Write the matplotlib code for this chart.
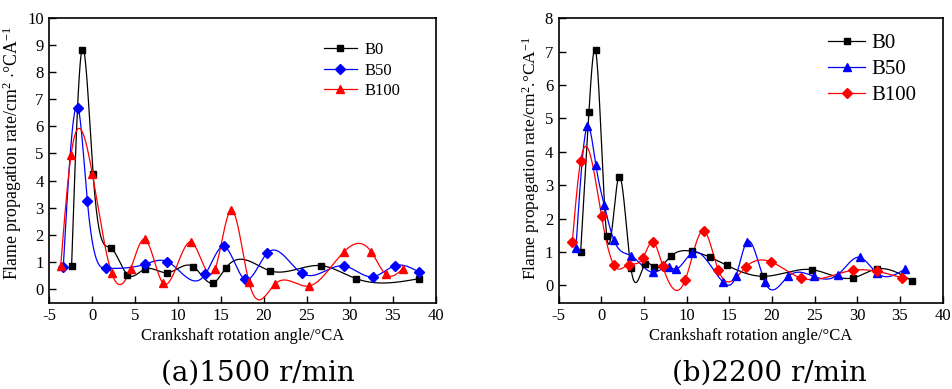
import numpy as np
import matplotlib
matplotlib.use("Agg")
import matplotlib.pyplot as plt

# ---------------- data: (a) 1500 r/min ----------------
a_b0_x = [-2.4, -1.2, 0.1, 2.2, 4.1, 6.1, 8.75, 11.8, 14.1, 15.6, 20.7, 26.7, 30.75, 38.1]
a_b0_y = [0.85, 8.84, 4.25, 1.5, 0.52, 0.72, 0.59, 0.81, 0.21, 0.78, 0.66, 0.85, 0.37, 0.37]
a_b50_x = [-3.37, -1.65, -0.57, 1.6, 6.12, 8.75, 13.17, 15.35, 17.75, 20.4, 24.4, 29.35, 32.7, 35.3, 38.1]
a_b50_y = [0.81, 6.70, 3.25, 0.75, 0.90, 1.00, 0.53, 1.56, 0.35, 1.32, 0.57, 0.84, 0.44, 0.85, 0.61]
a_b100_x = [-3.67, -2.47, 0.01, 2.27, 4.49, 6.12, 8.2, 11.55, 14.33, 16.2, 18.25, 21.3, 25.3, 29.35, 32.5, 34.2, 36.2]
a_b100_y = [0.85, 4.94, 4.25, 0.57, 0.74, 1.83, 0.22, 1.72, 0.74, 2.91, 0.26, 0.17, 0.10, 1.37, 1.37, 0.53, 0.74]

# ---------------- data: (b) 2200 r/min ----------------
b_b0_x = [-2.43, -1.46, -0.68, 0.64, 2.04, 3.47, 5.15, 6.12, 8.14, 10.59, 12.77, 14.7, 19.0, 24.7, 29.46, 32.3, 36.4]
b_b0_y = [0.99, 5.18, 7.04, 1.47, 3.25, 0.51, 0.65, 0.54, 0.87, 1.02, 0.84, 0.60, 0.27, 0.47, 0.22, 0.49, 0.14]
b_b50_x = [-2.98, -1.66, -0.65, 0.32, 1.45, 3.47, 6.04, 7.9, 8.77, 10.59, 14.3, 15.77, 17.05, 19.19, 21.9, 24.9, 27.74, 30.27, 32.3, 35.6]
b_b50_y = [1.12, 4.76, 3.61, 2.42, 1.37, 0.89, 0.39, 0.54, 0.49, 0.97, 0.09, 0.27, 1.30, 0.09, 0.27, 0.27, 0.32, 0.84, 0.37, 0.49]
b_b100_x = [-3.41, -2.43, 0.02, 1.49, 3.2, 4.87, 6.04, 7.2, 9.82, 12.0, 13.7, 16.94, 19.9, 23.4, 29.46, 32.3, 35.3]
b_b100_y = [1.29, 3.73, 2.07, 0.60, 0.62, 0.82, 1.30, 0.57, 0.15, 1.64, 0.47, 0.55, 0.70, 0.22, 0.45, 0.42, 0.22]

x_ticks = [-5, 0, 5, 10, 15, 20, 25, 30, 35, 40]
series_names = ["B0", "B50", "B100"]


def natural_spline(x, y, n=40):
    """Smooth line through the data points (like Origin's spline connector)."""
    x = np.asarray(x, float)
    y = np.asarray(y, float)
    m = len(x)
    h = np.diff(x)
    A = np.zeros((m, m))
    r = np.zeros(m)
    A[0, 0] = A[-1, -1] = 1.0
    for i in range(1, m - 1):
        A[i, i - 1] = h[i - 1]
        A[i, i] = 2 * (h[i - 1] + h[i])
        A[i, i + 1] = h[i]
        r[i] = 3 * ((y[i + 1] - y[i]) / h[i] - (y[i] - y[i - 1]) / h[i - 1])
    c = np.linalg.solve(A, r)
    xs, ys = [], []
    for i in range(m - 1):
        b = (y[i + 1] - y[i]) / h[i] - h[i] * (2 * c[i] + c[i + 1]) / 3
        d = (c[i + 1] - c[i]) / (3 * h[i])
        t = np.linspace(0, h[i], n, endpoint=(i == m - 2))
        xs.append(x[i] + t)
        ys.append(y[i] + b * t + c[i] * t ** 2 + d * t ** 3)
    return np.concatenate(xs), np.concatenate(ys)


plt.rcParams["font.family"] = ["Liberation Serif", "DejaVu Serif"]
plt.rcParams["mathtext.fontset"] = "custom"
plt.rcParams["mathtext.rm"] = "Liberation Serif"
plt.rcParams["mathtext.it"] = "Liberation Serif:italic"
plt.rcParams["axes.unicode_minus"] = False

fig = plt.figure(figsize=(9.52, 3.89), dpi=100)
W, H = 952, 389


def ax_rect(l, r, t, b):
    return [l / W, 1 - b / H, (r - l) / W, (b - t) / H]


ax1 = fig.add_axes(ax_rect(49.3, 435.5, 18.3, 302.7))
ax2 = fig.add_axes(ax_rect(558.7, 942.5, 18.3, 302.7))

panels = [
    (ax1, [(a_b0_x, a_b0_y), (a_b50_x, a_b50_y), (a_b100_x, a_b100_y)],
     ["s", "D", "^"], 10, "Flame propagation rate/cm$^{2}$ $\\cdot$°CA$^{-1}$", 12.8, 0.5246,
     dict(fontsize=12, handlelength=1.98, handletextpad=0.45, labelspacing=0.26,
          bbox_to_anchor=(0.711, 0.916))),
    (ax2, [(b_b0_x, b_b0_y), (b_b50_x, b_b50_y), (b_b100_x, b_b100_y)],
     ["s", "^", "D"], 8, "Flame propagation rate/cm$^{2}$.°CA$^{-1}$", 12.5, 0.507,
     dict(fontsize=15, handlelength=1.78, handletextpad=0.3, labelspacing=0.3,
          bbox_to_anchor=(0.702, 0.9455))),
]
colors = ["black", "#0000ff", "#ff0000"]
msizes = {"s": 4.6, "D": 5.0, "^": 5.6}

for ax, data, markers, ytop, ylab, ylfs, ylab_y, legkw in panels:
    for (xv, yv), col, mk, name in zip(data, colors, markers, series_names):
        sx, sy = natural_spline(xv, yv)
        ax.plot(sx, sy, color=col, lw=0.9, zorder=2)
        ms = msizes[mk]
        ax.plot(xv, yv, ls="none", marker=mk, color=col, ms=ms, zorder=3)
        ax.plot([], [], color=col, lw=0.9, marker=mk, ms=ms, label=name)
    ax.set_xlim(-5, 40)
    ax.set_ylim(-0.52, ytop)
    ax.set_xticks(x_ticks)
    ax.set_yticks(range(0, ytop + 1))
    ax.tick_params(direction="in", length=5, width=1.0, labelsize=12,
                   top=False, right=False, pad=4)
    for s in ax.spines.values():
        s.set_linewidth(1.2)
    ax.set_xlabel("Crankshaft rotation angle/°CA", fontsize=12, labelpad=3)
    ax.set_ylabel(ylab, fontsize=ylfs, labelpad=2)
    ax.yaxis.label.set_y(ylab_y)
    ax.legend(loc="upper left", frameon=False, borderaxespad=0, borderpad=0,
              **legkw)

fig.text(257.5 / W, 1 - 373 / H, "(a)1500 r/min", fontsize=20,
         family=["DejaVu Serif"], ha="center", va="center")
fig.text(769 / W, 1 - 373 / H, "(b)2200 r/min", fontsize=20,
         family=["DejaVu Serif"], ha="center", va="center")

fig.savefig("out.png", dpi=100)
